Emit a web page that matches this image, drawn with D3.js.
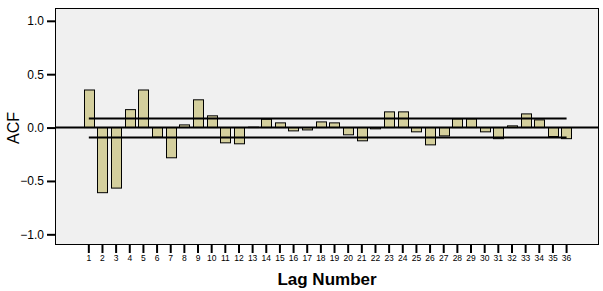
<!DOCTYPE html>
<html>
<head>
<meta charset="utf-8">
<script src="https://cdn.jsdelivr.net/npm/d3@7"></script>
<style>
  body { margin: 0; background: #fff; }
  text { font-family: Arial, "Liberation Sans", sans-serif; fill: #000; }
</style>
</head>
<body>
<script>
// ACF values
var lags = d3.range(1, 37);
var acf = [0.352, -0.61, -0.567, 0.168, 0.352, -0.09, -0.283, 0.025, 0.26, 0.11,
           -0.143, -0.152, 0.004, 0.078, 0.044, -0.031, -0.022, 0.053, 0.044, -0.068,
           -0.124, -0.012, 0.147, 0.147, -0.04, -0.162, -0.078, 0.081, 0.081, -0.04,
           -0.104, 0.016, 0.128, 0.072, -0.084, -0.104];
var upperLimit = 0.085;
var lowerLimit = -0.092;
var yTicks = [-1.0, -0.5, 0.0, 0.5, 1.0];

var width = 603;
var height = 291;
var plot = { left: 55, right: 599, top: 8, bottom: 245 };

var svg = d3.select('body')
    .append('svg')
    .attr('width', width)
    .attr('height', height);

var x = d3.scaleBand()
    .domain(lags)
    .range([82, 573.4])
    .paddingInner(0.25)
    .paddingOuter(0.125);

var y = d3.scaleLinear()
    .domain([-1.1, 1.12])
    .range([plot.bottom, plot.top]);

svg.append('rect')
    .attr('x', plot.left + 0.5)
    .attr('y', plot.top + 0.5)
    .attr('width', plot.right - plot.left - 1)
    .attr('height', plot.bottom - plot.top - 1)
    .attr('fill', '#f0f0f0')
    .attr('stroke', '#000')
    .attr('stroke-width', 1);

// bars
svg.selectAll('.bar')
    .data(lags)
    .enter()
    .append('rect')
    .attr('class', 'bar')
    .attr('x', function(d) { return Math.round(x(d)) + 0.5; })
    .attr('y', function(d, i) { return y(Math.max(0, acf[i])); })
    .attr('width', Math.round(x.bandwidth()))
    .attr('height', function(d, i) { return Math.abs(y(acf[i]) - y(0)); })
    .attr('fill', '#d4cf9d')
    .attr('stroke', '#000')
    .attr('stroke-width', 1);

// confidence limits
var x0 = x(1) + x.bandwidth() / 2;
var x1 = x(36) + x.bandwidth() / 2;
[upperLimit, lowerLimit].forEach(function(v) {
    svg.append('line')
        .attr('x1', x0)
        .attr('x2', x1)
        .attr('y1', y(v))
        .attr('y2', y(v))
        .attr('stroke', '#000')
        .attr('stroke-width', 2);
});

// zero line
svg.append('line')
    .attr('x1', plot.left)
    .attr('x2', plot.right)
    .attr('y1', y(0))
    .attr('y2', y(0))
    .attr('stroke', '#000')
    .attr('stroke-width', 2);

// y axis
var yAxis = svg.append('g')
    .attr('transform', 'translate(' + plot.left + ',0)')
    .call(d3.axisLeft(y)
        .tickValues(yTicks)
        .tickFormat(d3.format('.1f'))
        .tickSize(8)
        .tickPadding(3));
yAxis.select('.domain').remove();
yAxis.selectAll('line').attr('stroke-width', 2);
yAxis.selectAll('text')
    .attr('font-size', 12)
    .style('font-family', 'Arial, "Liberation Sans", sans-serif');

// x axis
var xAxis = svg.append('g')
    .attr('transform', 'translate(0,' + plot.bottom + ')')
    .call(d3.axisBottom(x)
        .tickSize(8)
        .tickPadding(2));
xAxis.select('.domain').remove();
xAxis.selectAll('line').attr('stroke-width', 2);
xAxis.selectAll('text')
    .attr('font-size', 8.5)
    .style('font-family', 'Arial, "Liberation Sans", sans-serif');

// axis titles
svg.append('text')
    .attr('transform', 'translate(19,128) rotate(-90)')
    .attr('text-anchor', 'middle')
    .attr('font-size', 16)
    .text('ACF');

svg.append('text')
    .attr('x', 327)
    .attr('y', 285)
    .attr('text-anchor', 'middle')
    .attr('font-size', 17)
    .attr('font-weight', 'bold')
    .text('Lag Number');
</script>
</body>
</html>
